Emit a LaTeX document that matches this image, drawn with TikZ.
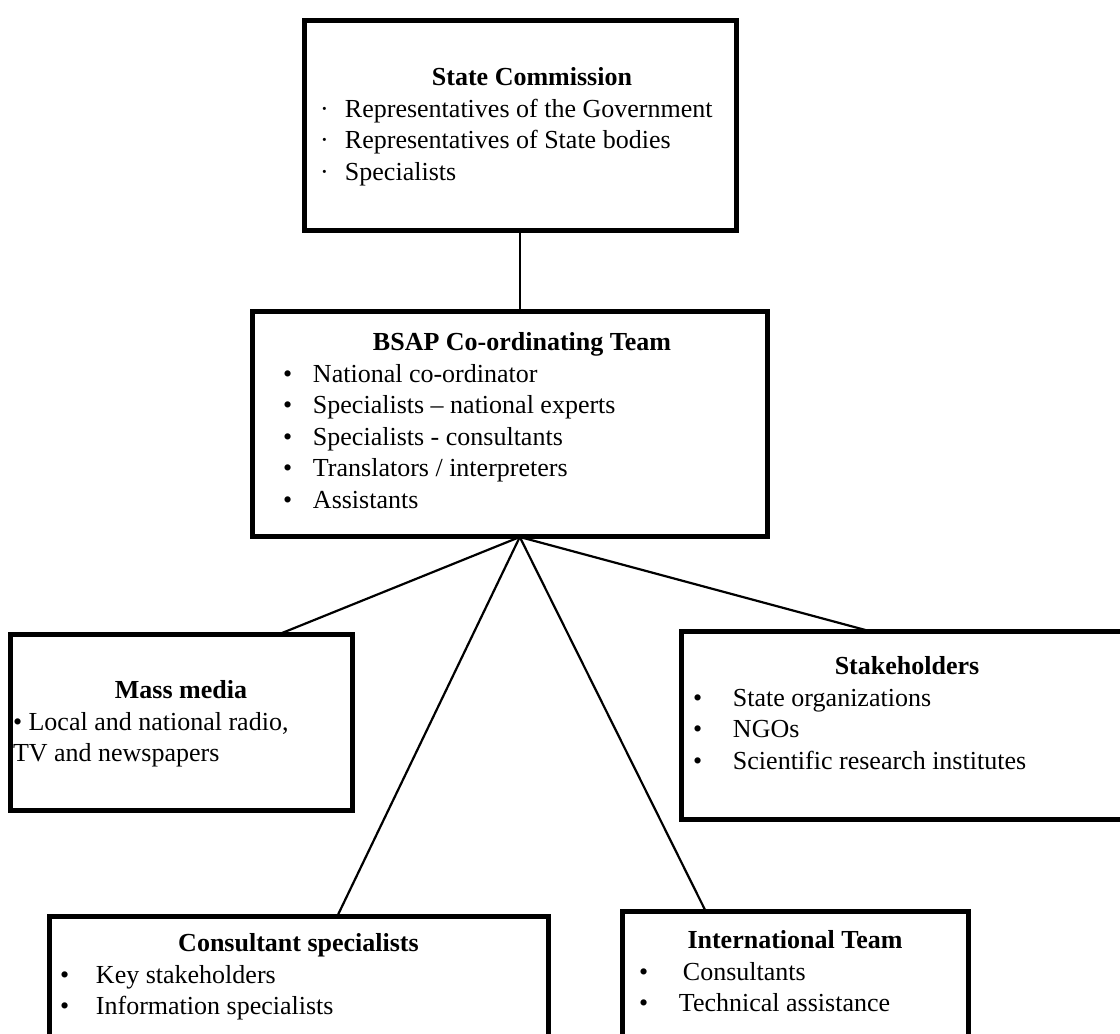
\documentclass[tikz,border=0pt]{standalone}
\usepackage{fontspec}
\setmainfont{Liberation Serif}
\usetikzlibrary{positioning,calc}

\tikzset{
  orgbox/.style={draw, line width=5pt, inner sep=0pt, outer sep=0pt},
  link/.style={draw, line width=2.2pt}
}
\newcommand{\boxbody}[3]{\parbox[c][#2][t]{#1}{#3}}
\newcommand{\itm}[4]{\hspace*{#1}\makebox[\dimexpr#2-#1\relax][l]{#3}#4\strut\par}
\newcommand{\ttl}[2][0pt]{{\centering\bfseries\hspace*{#1}#2\strut\par}}

\begin{document}
\begin{tikzpicture}[x=1pt,y=1pt,font=\fontsize{26}{31.5}\selectfont]
\useasboundingbox (0,0) rectangle (1120,1034);
\clip (0,0) rectangle (1120,1034);
% Nodes
% co-ordinating team in the middle
\node[orgbox](bsap) at (509.5,609.5) {\boxbody{515pt}{225pt}{\vspace*{16.5pt}
  \ttl[25pt]{BSAP Co-ordinating Team}
  \itm{31pt}{61pt}{\textbullet}{National co-ordinator}
  \itm{31pt}{61pt}{\textbullet}{Specialists -- national experts}
  \itm{31pt}{61pt}{\textbullet}{Specialists - consultants}
  \itm{31pt}{61pt}{\textbullet}{Translators / interpreters}
  \itm{31pt}{61pt}{\textbullet}{Assistants}}};
\node[orgbox, above = 81pt of bsap, xshift=10.5pt](state) {\boxbody{432pt}{210pt}{\vspace*{42.5pt}
  \ttl[24pt]{State Commission}
  \itm{16pt}{41pt}{\textperiodcentered}{Representatives of the Government}
  \itm{16pt}{41pt}{\textperiodcentered}{Representatives of State bodies}
  \itm{16pt}{41pt}{\textperiodcentered}{Specialists}}};
% groups around the team
\node[orgbox, below = 98pt of bsap, xshift=-328.5pt](mass) {\boxbody{342pt}{176pt}{\vspace*{41.5pt}
  \ttl{Mass media}
  \hspace*{3pt}\textbullet{} Local and national radio,\strut\par
  \hspace*{3pt}TV and newspapers\strut\par}};
\node[orgbox, below = 95pt of bsap, xshift=393.5pt](stake) {\boxbody{444pt}{188pt}{\vspace*{20.5pt}
  \ttl[8pt]{Stakeholders}
  \itm{12pt}{52pt}{\textbullet}{State organizations}
  \itm{12pt}{52pt}{\textbullet}{NGOs}
  \itm{12pt}{52pt}{\textbullet}{Scientific research institutes}}};
\node[orgbox, below = 380pt of bsap, xshift=-211pt](consult) {\boxbody{499pt}{153pt}{\vspace*{12.5pt}
  \ttl{Consultant specialists}
  \itm{11pt}{47pt}{\textbullet}{Key stakeholders}
  \itm{11pt}{47pt}{\textbullet}{Information specialists}}};
\node[orgbox, below = 375pt of bsap, xshift=285.5pt](intl) {\boxbody{346pt}{158pt}{\vspace*{14.5pt}
  \ttl{International Team}
  \itm{17pt}{61pt}{\textbullet}{Consultants}
  \itm{17pt}{57pt}{\textbullet}{Technical assistance}}};

% Edges
\coordinate (hub) at ($(bsap.south west)!0.52!(bsap.south east)$);
\draw[link] (state.south) -- (state.south |- bsap.north);
\draw[link] (hub) -- ($(mass.north west)!0.781!(mass.north east)$);
\draw[link] (hub) -- ($(stake.north west)!0.432!(stake.north east)$);
\draw[link] (hub) -- ($(consult.north west)!0.577!(consult.north east)$);
\draw[link] (hub) -- ($(intl.north west)!0.243!(intl.north east)$);

\end{tikzpicture}
\end{document}
